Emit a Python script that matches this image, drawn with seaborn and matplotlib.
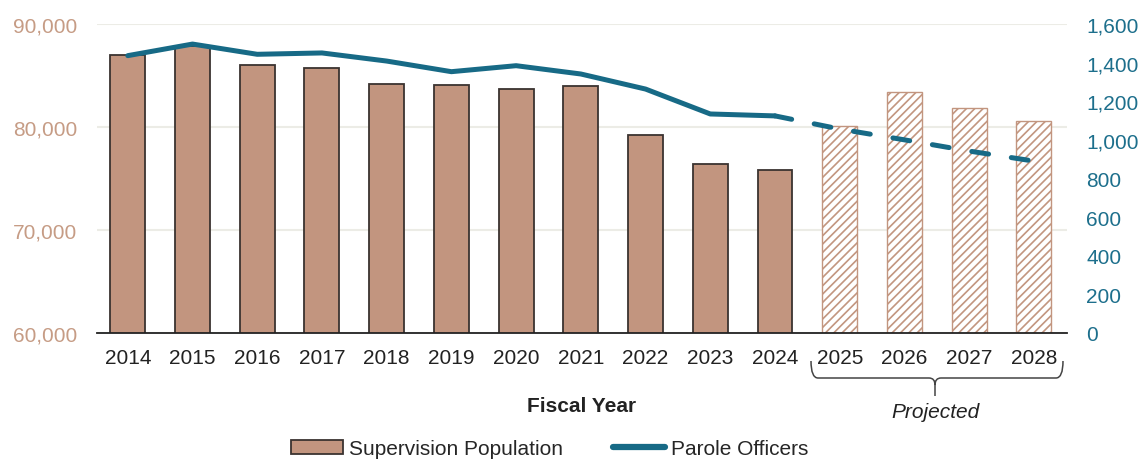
import matplotlib
matplotlib.use('Agg')
import matplotlib.pyplot as plt
import seaborn as sns
import pandas as pd
from matplotlib.patches import Patch, PathPatch
from matplotlib.lines import Line2D
from matplotlib.path import Path

# -------------------------------
# Data
# -------------------------------
years = ['2014', '2015', '2016', '2017', '2018', '2019', '2020', '2021',
         '2022', '2023', '2024', '2025', '2026', '2027', '2028']
population = [87000, 87900, 86000, 85700, 84200, 84100, 83700, 83950,
              79250, 76400, 75850, 80130, 83350, 81800, 80580]
officers = [1436, 1496, 1443, 1450, 1408, 1353, 1384, 1341,
            1263, 1134, 1124, 1056, 1000, 942, 890]
n_actual = 11  # 2014-2024 actual, rest projected

pop_ticks = [60000, 70000, 80000, 90000]
off_ticks = [0, 200, 400, 600, 800, 1000, 1200, 1400, 1600]

TAN = '#c2957f'
TAN_TXT = '#c69c85'
TEAL = '#176a86'
TEAL_TXT = '#1d6f8c'

sns.set_style('white')
plt.rcParams['font.family'] = ['Liberation Sans', 'DejaVu Sans']
plt.rcParams['hatch.linewidth'] = 1.2

df = pd.DataFrame({'Year': years, 'Population': population,
                   'Officers': officers, 'idx': range(len(years))})

fig = plt.figure(figsize=(11.38, 4.6), dpi=100)
ax = fig.add_axes([0.085, 0.274, 0.8525, 0.6717])

sns.barplot(data=df, x='Year', y='Population', color=TAN, width=0.54,
            edgecolor='#3a3330', linewidth=1.3, saturation=1, ax=ax)

# projected bars: white with tan hatching
for i, bar in enumerate(ax.patches):
    if i >= n_actual:
        bar.set_facecolor('white')
        bar.set_edgecolor(TAN)
        bar.set_hatch('////')
        bar.set_linewidth(1.0)

ax.set_ylim(60000, 90000)
ax.set_yticks(pop_ticks)
ax.set_yticklabels([f'{v:,}' for v in pop_ticks])
ax.set_xlim(-0.48, 14.51)
ax.yaxis.grid(True, color='#ecece6', linewidth=1.5)
ax.set_axisbelow(True)
for s in ['left', 'right', 'top']:
    ax.spines[s].set_visible(False)
ax.spines['bottom'].set_color('#222222')
ax.spines['bottom'].set_linewidth(1.3)
ax.tick_params(axis='y', colors=TAN_TXT, labelsize=15, length=0, pad=14)
ax.tick_params(axis='x', colors='#222222', labelsize=15, length=0, pad=11)
ax.set_ylabel('')
ax.set_xlabel('Fiscal Year', fontsize=15, fontweight='bold', color='#222222',
              labelpad=21)

# parole officers on the right axis
ax2 = ax.twinx()
sns.lineplot(data=df.iloc[:n_actual], x='idx', y='Officers', color=TEAL,
             linewidth=3.6, solid_capstyle='round', ax=ax2)
sns.lineplot(data=df.iloc[n_actual - 1:], x='idx', y='Officers', color=TEAL,
             linewidth=3.6, dash_capstyle='round', ax=ax2)
ax2.lines[-1].set_dashes((3.4, 4.6))
ax2.set_ylim(0, 1600)
ax2.set_yticks(off_ticks)
ax2.set_yticklabels([f'{v:,}' for v in off_ticks])
ax2.set_xlim(-0.48, 14.51)
for s in ['left', 'right', 'top', 'bottom']:
    ax2.spines[s].set_visible(False)
ax2.tick_params(axis='y', colors=TEAL_TXT, labelsize=15, length=0, pad=14)
ax2.set_ylabel('')
ax2.set_xlabel('')
ax2.grid(False)

# brace under the projected years
W, H = 1138.0, 460.0
def fp(x, y):
    return (x / W, 1 - y / H)

verts = [fp(811, 362), fp(811, 379), fp(818, 379), fp(929, 379),
         fp(935, 379), fp(935, 386), fp(935, 397),
         fp(1063, 362), fp(1063, 379), fp(1056, 379), fp(941, 379),
         fp(935, 379), fp(935, 386)]
codes = [Path.MOVETO, Path.CURVE3, Path.CURVE3, Path.LINETO,
         Path.CURVE3, Path.CURVE3, Path.LINETO,
         Path.MOVETO, Path.CURVE3, Path.CURVE3, Path.LINETO,
         Path.CURVE3, Path.CURVE3]
brace = PathPatch(Path(verts, codes), facecolor='none', edgecolor='#444444',
                  linewidth=1.1, transform=fig.transFigure)
fig.patches.append(brace)
fig.text(935 / W, 1 - 412 / H, 'Projected', fontsize=15, style='italic',
         color='#222222', ha='center', va='center')

# legend
handles = [Patch(facecolor=TAN, edgecolor='#3a3330', linewidth=1.3),
           Line2D([0], [0], color=TEAL, linewidth=4.5, solid_capstyle='round')]
fig.legend(handles, ['Supervision Population', 'Parole Officers'],
           loc='center', bbox_to_anchor=(0.483, 0.022), ncol=2, frameon=False,
           fontsize=15, handlelength=2.5, handleheight=0.7,
           handletextpad=0.3, columnspacing=2.4)

plt.savefig('out.png', dpi=100)
plt.close()
